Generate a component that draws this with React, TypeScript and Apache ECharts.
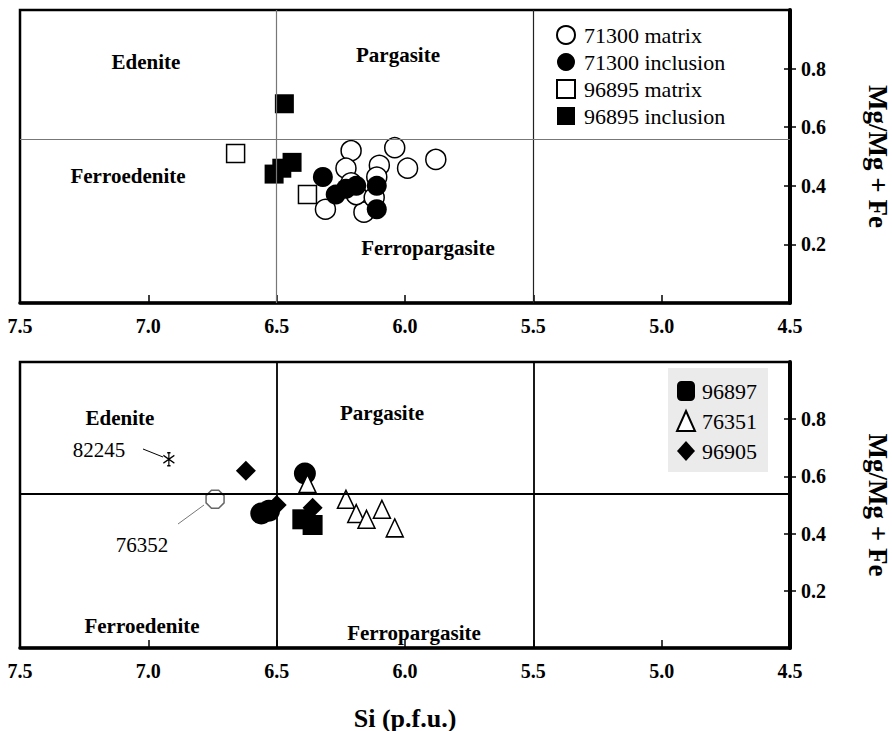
import React, { useEffect, useRef } from "react";
import * as echarts from "echarts";

// Amphibole classification: Si (p.f.u.) vs Mg/(Mg+Fe)
const SI_BOUNDARIES = [6.5, 5.5];
const MG_BOUNDARY_TOP = 0.56;
const MG_BOUNDARY_BOTTOM = 0.54;

// Upper panel samples
const matrix71300: [number, number][] = [
  [6.21, 0.52], [6.23, 0.46], [6.1, 0.47], [6.04, 0.53], [5.99, 0.46], [5.88, 0.49],
  [6.31, 0.32], [6.16, 0.31], [6.21, 0.41], [6.11, 0.43], [6.19, 0.37], [6.12, 0.36],
];
const inclusion71300: [number, number][] = [
  [6.32, 0.43], [6.27, 0.37], [6.23, 0.39], [6.19, 0.4], [6.11, 0.4], [6.11, 0.32],
];
const matrix96895: [number, number][] = [
  [6.66, 0.51], [6.38, 0.37],
];
const inclusion96895: [number, number][] = [
  [6.47, 0.68], [6.51, 0.44], [6.48, 0.46], [6.44, 0.48],
];

// Lower panel samples
const s96897Round: [number, number][] = [[6.39, 0.61], [6.56, 0.47], [6.53, 0.48]];
const s96897Square: [number, number][] = [[6.4, 0.45], [6.36, 0.43]];
const s76351: [number, number][] = [
  [6.38, 0.575], [6.23, 0.52], [6.19, 0.47], [6.15, 0.45], [6.09, 0.485], [6.04, 0.42],
];
const s96905: [number, number][] = [[6.62, 0.62], [6.5, 0.5], [6.36, 0.49]];
const s82245: [number, number][] = [[6.92, 0.66]];
const s76352: [number, number][] = [[6.74, 0.52]];

const TOP_LEGEND = ["71300 matrix", "71300 inclusion", "96895 matrix", "96895 inclusion"];

const SERIF = "Liberation Serif";
const OCTAGON = "path://M3,0 L7,0 L10,3 L10,7 L7,10 L3,10 L0,7 L0,3 Z";
const ASTERISK = "path://M5,0L5,12M0,2.5L10,9.5M0,9.5L10,2.5M3.5,0L6.5,0M3.5,12L6.5,12";

const openStyle = { color: "#fff", borderColor: "#000", borderWidth: 1.5, opacity: 1 };
const fillStyle = { color: "#000", borderColor: "#000", borderWidth: 0, opacity: 1 };

function xAxisFor(gridIndex: number, withName: boolean) {
  return {
    type: "value",
    gridIndex,
    min: 4.5,
    max: 7.5,
    interval: 0.5,
    inverse: true,
    position: "bottom",
    axisLine: { show: true, lineStyle: { color: "#000", width: 3.5 } },
    axisTick: { show: true, inside: true, length: 8, lineStyle: { color: "#000", width: 1.5 } },
    axisLabel: {
      color: "#000",
      fontFamily: SERIF,
      fontWeight: "bold",
      fontSize: 20,
      margin: 13,
      formatter: (v: number) => v.toFixed(1),
    },
    splitLine: { show: false },
    name: withName ? "Si (p.f.u.)" : "",
    nameLocation: "middle",
    nameGap: 57,
    nameTextStyle: { color: "#000", fontFamily: SERIF, fontWeight: "bold", fontSize: 26 },
  };
}

function yAxesFor(gridIndex: number) {
  return [
    {
      type: "value",
      gridIndex,
      position: "right",
      min: 0,
      max: 1,
      interval: 0.2,
      axisLine: { show: true, lineStyle: { color: "#000", width: 4 } },
      axisTick: { show: true, inside: false, length: 6, lineStyle: { color: "#000", width: 1.5 } },
      axisLabel: {
        color: "#000",
        fontFamily: SERIF,
        fontWeight: "bold",
        fontSize: 20,
        margin: 11,
        showMinLabel: false,
        showMaxLabel: false,
        formatter: (v: number) => v.toFixed(1),
      },
      splitLine: { show: false },
      name: "Mg/Mg + Fe",
      nameLocation: "middle",
      nameRotate: -90,
      nameGap: 74,
      nameTextStyle: { color: "#000", fontFamily: SERIF, fontWeight: "bold", fontSize: 27 },
    },
    {
      type: "value",
      gridIndex,
      position: "right",
      min: 0,
      max: 1,
      interval: 0.2,
      axisLine: { show: false },
      axisTick: { show: true, inside: true, length: 6, lineStyle: { color: "#000", width: 1.5 } },
      axisLabel: { show: false },
      splitLine: { show: false },
    },
  ];
}

function boundaries(mg: number, color: string, width: number, siColors: string[]) {
  return {
    silent: true,
    symbol: ["none", "none"],
    label: { show: false },
    lineStyle: { type: "solid", color, width },
    data: [
      ...SI_BOUNDARIES.map((si, i) => ({ xAxis: si, lineStyle: { color: siColors[i], width, type: "solid" } })),
      { yAxis: mg, lineStyle: { color, width, type: "solid" } },
    ],
  };
}

function label(text: string, x: number, y: number, bold: boolean) {
  return {
    type: "text",
    x,
    y,
    z: 5,
    style: {
      text,
      x: 0,
      y: 0,
      fontFamily: SERIF,
      fontSize: 21,
      fontWeight: bold ? "bold" : "normal",
      fill: "#000",
      textAlign: "center",
      textVerticalAlign: "middle",
      align: "center",
      verticalAlign: "middle",
    },
  };
}

export default function App() {
  const ref = useRef<HTMLDivElement>(null);

  useEffect(() => {
    if (!ref.current) return;
    const chart = echarts.init(ref.current, null, { renderer: "svg" });

    const legendText = { color: "#000", fontFamily: SERIF, fontSize: 22 };
    const gridBase = {
      left: 20,
      right: 102,
      show: true,
      borderColor: "#000",
      borderWidth: 2.5,
      backgroundColor: "transparent",
      containLabel: false,
      outerBoundsMode: "none",
    };

    const option = {
      animation: false,
      backgroundColor: "#fff",
      textStyle: { fontFamily: SERIF },
      grid: [
        { ...gridBase, top: 10, height: 293 },
        { ...gridBase, top: 362, height: 286 },
      ],
      xAxis: [xAxisFor(0, false), xAxisFor(1, true)],
      yAxis: [...yAxesFor(0), ...yAxesFor(1)],
      legend: [
        {
          data: TOP_LEGEND,
          orient: "vertical",
          left: 556,
          top: 24,
          padding: 0,
          itemWidth: 18,
          itemHeight: 18,
          itemGap: 5,
          selectedMode: false,
          textStyle: { ...legendText, padding: [0, 0, 0, 4] },
        },
        {
          data: [
            { name: "96897", icon: "roundRect" },
            { name: "76351", icon: "triangle" },
            { name: "96905", icon: "diamond" },
          ],
          orient: "vertical",
          left: 676,
          top: 380,
          padding: 0,
          itemWidth: 18,
          itemHeight: 20,
          itemGap: 8,
          z: 10,
          selectedMode: false,
          textStyle: { ...legendText, padding: [0, 0, 0, 2] },
        },
      ],
      series: [
        {
          name: "71300 matrix",
          type: "scatter",
          xAxisIndex: 0,
          yAxisIndex: 0,
          symbol: "circle",
          symbolSize: 20,
          itemStyle: openStyle,
          data: matrix71300,
          markLine: boundaries(MG_BOUNDARY_TOP, "#777", 1.2, ["#777", "#222"]),
          z: 2,
        },
        {
          name: "96895 matrix",
          type: "scatter",
          xAxisIndex: 0,
          yAxisIndex: 0,
          symbol: "rect",
          symbolSize: 18,
          itemStyle: openStyle,
          data: matrix96895,
          z: 3,
        },
        {
          name: "71300 inclusion",
          type: "scatter",
          xAxisIndex: 0,
          yAxisIndex: 0,
          symbol: "circle",
          symbolSize: 20,
          itemStyle: fillStyle,
          data: inclusion71300,
          z: 4,
        },
        {
          name: "96895 inclusion",
          type: "scatter",
          xAxisIndex: 0,
          yAxisIndex: 0,
          symbol: "rect",
          symbolSize: 19,
          itemStyle: fillStyle,
          data: inclusion96895,
          z: 4,
        },
        {
          name: "96897",
          type: "scatter",
          xAxisIndex: 1,
          yAxisIndex: 2,
          symbol: "circle",
          symbolSize: 22,
          itemStyle: fillStyle,
          data: s96897Round,
          markLine: boundaries(MG_BOUNDARY_BOTTOM, "#000", 1.8, ["#000", "#000"]),
          z: 2,
        },
        {
          name: "96897",
          type: "scatter",
          xAxisIndex: 1,
          yAxisIndex: 2,
          symbol: "rect",
          symbolSize: 20,
          itemStyle: fillStyle,
          data: s96897Square,
          z: 2,
        },
        {
          name: "96905",
          type: "scatter",
          xAxisIndex: 1,
          yAxisIndex: 2,
          symbol: "diamond",
          symbolSize: 20,
          itemStyle: fillStyle,
          data: s96905,
          z: 3,
        },
        {
          name: "76351",
          type: "scatter",
          xAxisIndex: 1,
          yAxisIndex: 2,
          symbol: "triangle",
          symbolSize: [17, 18],
          itemStyle: openStyle,
          data: s76351,
          z: 4,
        },
        {
          name: "82245",
          type: "scatter",
          xAxisIndex: 1,
          yAxisIndex: 2,
          symbol: ASTERISK,
          symbolSize: [11, 13],
          itemStyle: { color: "transparent", borderColor: "#000", borderWidth: 1.3, opacity: 1 },
          data: s82245,
          z: 4,
        },
        {
          name: "76352",
          type: "scatter",
          xAxisIndex: 1,
          yAxisIndex: 2,
          symbol: OCTAGON,
          symbolSize: 18,
          itemStyle: { color: "#fff", borderColor: "#666", borderWidth: 1.5, opacity: 1 },
          data: s76352,
          z: 4,
        },
      ],
      graphic: [
        { type: "rect", z: 0, shape: { x: 668, y: 368, width: 100, height: 104 }, style: { fill: "#ebebeb" } },
        label("Edenite", 146, 62, true),
        label("Pargasite", 398, 55, true),
        label("Ferroedenite", 128, 176, true),
        label("Ferropargasite", 428, 248, true),
        label("Edenite", 120, 418, true),
        label("Pargasite", 382, 413, true),
        label("Ferroedenite", 142, 626, true),
        label("Ferropargasite", 414, 633, true),
        label("82245", 99, 450, false),
        label("76352", 142, 545, false),
        { type: "line", z: 5, shape: { x1: 143, y1: 449, x2: 163, y2: 457 }, style: { stroke: "#000", lineWidth: 1 } },
        { type: "line", z: 5, shape: { x1: 178, y1: 524, x2: 204, y2: 505 }, style: { stroke: "#777", lineWidth: 1 } },
      ],
    };

    chart.setOption(option as any);
    return () => chart.dispose();
  }, []);

  return (
    <div
      ref={ref}
      style={{ position: "fixed", left: 0, top: 0, width: 892, height: 731, background: "#fff" }}
    />
  );
}
